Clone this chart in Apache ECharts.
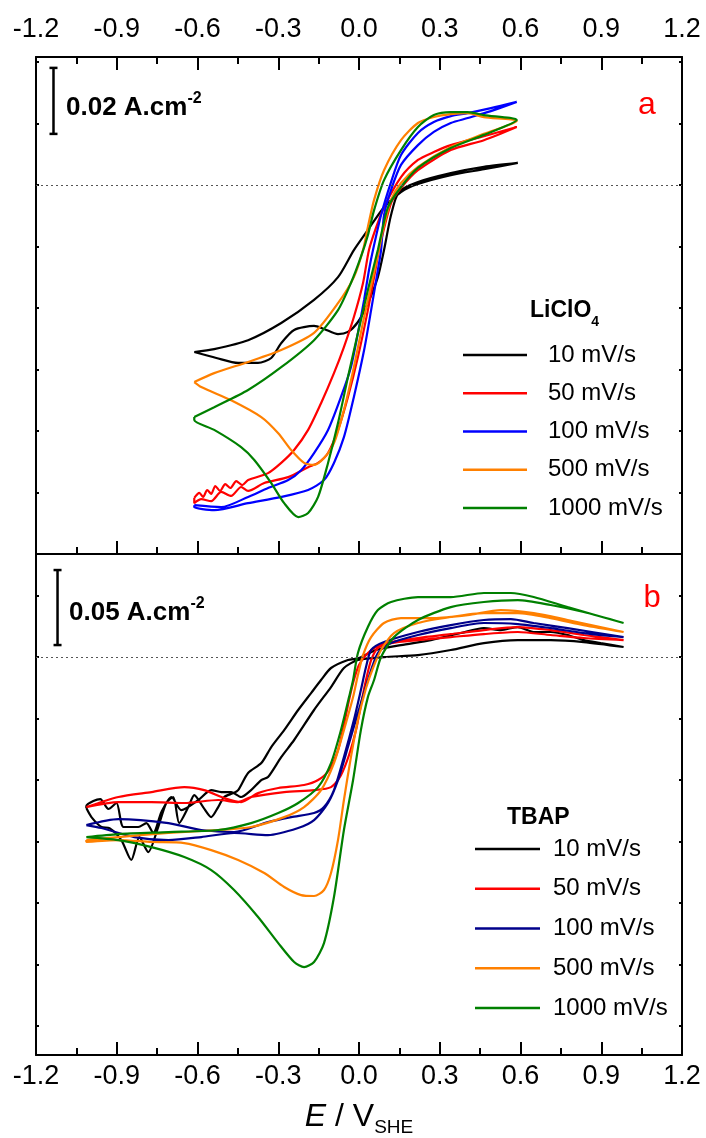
<!DOCTYPE html>
<html>
<head>
<meta charset="utf-8">
<script src="https://cdn.jsdelivr.net/npm/echarts@6/dist/echarts.min.js"></script>
<style>
  html, body { margin: 0; padding: 0; background: #fff; }
  #chart { width: 706px; height: 1138px; }
</style>
</head>
<body>
<div id="chart"></div>
<script>
// potential axis (V vs SHE) and current density in mA/cm2
const eTicks = [-1.2, 1.2, 0.3];
const yTicksA = [-93.2, -74.6, -55.9, -37.3, -18.6, 0, 18.6, 37.3];
const yTicksB = [-246, -205, -164, -123, -82, -41, 0, 41];
const scaleBarA = [[-1.135, 35.5], [-1.135, 15.5]]; // 0.02 A/cm2
const scaleBarB = [[-1.120, 58.0], [-1.120, 8.0]];  // 0.05 A/cm2

const rates = ['10 mV/s', '50 mV/s', '100 mV/s', '500 mV/s', '1000 mV/s'];
const colorsA = ['#000000', '#ff0000', '#0000ff', '#ff8000', '#008000'];
const colorsB = ['#000000', '#ff0000', '#00008b', '#ff8000', '#008000'];

// panel a : LiClO4
const cvA10 = [[-0.612,-50.6],[-0.530,-52.4],[-0.449,-53.9],[-0.375,-53.9],[-0.326,-52.4],[-0.289,-47.9],[-0.241,-43.9],[-0.167,-42.7],[-0.130,-43.6],[-0.078,-45.2],[-0.041,-44.5],[-0.004,-41.5],[0.033,-35.8],[0.070,-27.9],[0.093,-19.7],[0.119,-9.1],[0.148,-2.1],[0.219,0.9],[0.341,3.6],[0.464,5.5],[0.590,6.7],[0.464,4.8],[0.341,3.0],[0.219,0.3],[0.156,-2.1],[0.093,-6.7],[0.033,-13.6],[-0.019,-19.7],[-0.078,-27.9],[-0.167,-34.8],[-0.289,-41.8],[-0.412,-47.0],[-0.538,-49.7],[-0.612,-50.6]];
const cvA50 = [[-0.612,-94.8],[-0.593,-93.3],[-0.579,-94.5],[-0.564,-92.4],[-0.549,-93.6],[-0.534,-91.2],[-0.516,-92.7],[-0.497,-90.6],[-0.478,-91.8],[-0.456,-89.7],[-0.434,-90.9],[-0.412,-89.4],[-0.338,-87.3],[-0.289,-84.2],[-0.241,-80.3],[-0.189,-74.2],[-0.141,-66.1],[-0.093,-57.0],[-0.056,-49.1],[-0.019,-40.0],[0.015,-29.7],[0.037,-19.7],[0.063,-13.0],[0.093,-6.7],[0.156,2.4],[0.219,7.6],[0.278,10.0],[0.341,12.1],[0.464,14.8],[0.586,17.6],[0.464,13.6],[0.341,10.6],[0.219,4.5],[0.156,-0.9],[0.119,-5.5],[0.074,-19.7],[0.063,-24.8],[0.033,-37.9],[-0.004,-52.1],[-0.041,-64.2],[-0.078,-74.2],[-0.115,-81.2],[-0.152,-84.2],[-0.189,-85.5],[-0.263,-88.5],[-0.352,-90.3],[-0.412,-92.7],[-0.438,-91.5],[-0.475,-94.2],[-0.512,-93.0],[-0.549,-95.8],[-0.586,-95.2],[-0.612,-96.4],[-0.612,-94.8]];
const cvA100 = [[-0.612,-97.0],[-0.512,-97.6],[-0.412,-94.5],[-0.338,-91.8],[-0.263,-89.4],[-0.215,-86.4],[-0.167,-81.2],[-0.115,-74.2],[-0.067,-64.2],[-0.030,-55.2],[-0.004,-44.8],[0.019,-34.8],[0.037,-25.8],[0.052,-19.7],[0.082,-9.1],[0.119,0.9],[0.156,9.1],[0.219,15.8],[0.278,19.1],[0.341,20.9],[0.404,21.8],[0.490,23.3],[0.586,25.2],[0.490,22.4],[0.404,20.3],[0.341,18.8],[0.278,16.1],[0.219,12.1],[0.156,6.1],[0.119,-1.5],[0.093,-9.1],[0.082,-19.7],[0.070,-25.8],[0.045,-37.9],[0.019,-50.0],[-0.019,-64.2],[-0.056,-76.4],[-0.093,-84.2],[-0.130,-89.4],[-0.189,-92.4],[-0.289,-94.5],[-0.412,-96.4],[-0.538,-98.5],[-0.612,-97.6],[-0.612,-97.0]];
const cvA500 = [[-0.612,-59.7],[-0.538,-57.0],[-0.412,-53.6],[-0.289,-50.0],[-0.167,-44.8],[-0.078,-35.8],[-0.019,-27.9],[0.015,-19.7],[0.033,-12.7],[0.056,-4.5],[0.093,4.5],[0.156,13.6],[0.219,18.8],[0.278,20.6],[0.341,21.5],[0.404,21.8],[0.464,20.6],[0.586,19.4],[0.464,15.5],[0.341,11.5],[0.219,5.5],[0.156,0.6],[0.119,-4.5],[0.089,-13.6],[0.074,-19.7],[0.052,-27.9],[0.019,-40.0],[-0.019,-55.2],[-0.056,-68.2],[-0.093,-78.2],[-0.130,-82.7],[-0.167,-84.8],[-0.204,-84.2],[-0.252,-80.3],[-0.300,-75.2],[-0.363,-70.3],[-0.475,-65.2],[-0.586,-61.2],[-0.612,-59.7]];
const cvA1000 = [[-0.612,-70.3],[-0.538,-67.3],[-0.412,-62.1],[-0.289,-55.2],[-0.167,-47.0],[-0.078,-37.9],[-0.030,-29.7],[0.007,-21.8],[0.033,-15.2],[0.056,-7.6],[0.093,1.5],[0.156,10.6],[0.219,17.6],[0.278,21.2],[0.341,22.1],[0.404,22.1],[0.464,21.2],[0.586,19.7],[0.464,15.2],[0.341,11.2],[0.219,5.2],[0.156,-0.6],[0.108,-6.7],[0.082,-15.2],[0.070,-19.7],[0.033,-31.8],[-0.004,-44.8],[-0.041,-58.2],[-0.078,-72.1],[-0.115,-84.2],[-0.152,-94.5],[-0.189,-99.4],[-0.226,-100.6],[-0.278,-96.4],[-0.326,-90.3],[-0.389,-83.3],[-0.438,-79.4],[-0.538,-74.2],[-0.612,-71.2],[-0.612,-70.3]];

// panel b : TBAP
const cvB10 = [[-1.013,-100.7],[-0.994,-106.7],[-0.957,-113.3],[-0.927,-114.0],[-0.883,-122.0],[-0.846,-135.3],[-0.816,-120.0],[-0.783,-130.0],[-0.746,-113.3],[-0.716,-97.3],[-0.690,-93.3],[-0.668,-110.7],[-0.634,-100.0],[-0.612,-92.0],[-0.579,-100.0],[-0.549,-106.7],[-0.523,-100.0],[-0.501,-93.3],[-0.467,-90.7],[-0.449,-88.7],[-0.412,-77.3],[-0.363,-70.7],[-0.326,-60.0],[-0.278,-48.7],[-0.226,-35.3],[-0.178,-24.0],[-0.141,-15.3],[-0.104,-7.3],[-0.041,-2.0],[0.000,-0.7],[0.063,4.7],[0.156,8.0],[0.267,11.3],[0.378,16.0],[0.464,19.3],[0.527,18.0],[0.590,20.0],[0.649,16.7],[0.712,16.7],[0.775,14.7],[0.835,11.3],[0.898,9.3],[0.983,6.7],[0.835,10.0],[0.712,11.3],[0.590,11.3],[0.464,9.3],[0.341,4.7],[0.219,1.3],[0.093,0.0],[-0.004,-2.0],[-0.056,-7.3],[-0.104,-20.0],[-0.167,-35.3],[-0.241,-55.3],[-0.289,-66.7],[-0.338,-80.0],[-0.363,-82.0],[-0.401,-88.7],[-0.438,-93.3],[-0.475,-90.0],[-0.512,-90.0],[-0.549,-88.7],[-0.597,-95.3],[-0.660,-102.0],[-0.697,-93.3],[-0.734,-103.3],[-0.764,-117.3],[-0.790,-110.7],[-0.820,-113.3],[-0.875,-113.3],[-0.901,-97.3],[-0.931,-101.3],[-0.961,-94.7],[-0.987,-96.0],[-1.013,-99.3],[-1.013,-100.7]];
const cvB50 = [[-1.013,-100.0],[-0.894,-93.3],[-0.771,-90.0],[-0.649,-86.7],[-0.575,-88.7],[-0.501,-94.0],[-0.438,-96.7],[-0.375,-90.7],[-0.300,-87.3],[-0.204,-85.3],[-0.152,-82.0],[-0.111,-75.3],[-0.078,-62.0],[-0.056,-45.3],[-0.037,-28.7],[-0.019,-15.3],[0.000,-5.3],[0.026,1.3],[0.063,6.7],[0.119,10.0],[0.219,12.7],[0.341,15.3],[0.464,18.0],[0.590,20.0],[0.712,18.0],[0.835,14.7],[0.983,11.3],[0.835,12.7],[0.712,14.7],[0.590,16.7],[0.464,15.3],[0.341,13.3],[0.219,11.3],[0.119,9.3],[0.070,6.0],[0.045,-2.0],[0.026,-15.3],[0.007,-32.0],[-0.011,-48.7],[-0.037,-65.3],[-0.067,-78.7],[-0.104,-86.7],[-0.167,-88.7],[-0.278,-90.0],[-0.401,-93.3],[-0.449,-96.7],[-0.523,-95.3],[-0.649,-97.3],[-0.771,-96.7],[-0.894,-96.7],[-1.013,-100.0]];
const cvB100 = [[-1.013,-112.0],[-0.894,-108.0],[-0.708,-110.7],[-0.586,-115.3],[-0.464,-116.7],[-0.338,-110.0],[-0.252,-106.7],[-0.167,-104.0],[-0.130,-100.0],[-0.093,-88.7],[-0.056,-66.7],[-0.019,-42.0],[0.007,-22.0],[0.026,-6.7],[0.045,4.7],[0.093,10.0],[0.219,16.7],[0.341,21.3],[0.464,24.7],[0.564,25.3],[0.649,22.7],[0.775,19.3],[0.983,13.3],[0.835,16.0],[0.712,19.3],[0.590,22.0],[0.464,22.7],[0.341,19.3],[0.219,14.7],[0.119,9.3],[0.070,2.7],[0.033,-15.3],[-0.004,-37.3],[-0.041,-60.0],[-0.078,-82.0],[-0.115,-97.3],[-0.167,-108.7],[-0.226,-114.0],[-0.338,-118.7],[-0.464,-117.3],[-0.586,-120.0],[-0.708,-122.0],[-0.835,-120.0],[-0.957,-114.0],[-1.013,-112.0]];
const cvB500 = [[-1.013,-122.0],[-0.894,-120.0],[-0.708,-117.3],[-0.523,-115.3],[-0.401,-113.3],[-0.278,-106.7],[-0.204,-100.0],[-0.141,-88.7],[-0.093,-70.7],[-0.056,-48.7],[-0.022,-26.7],[-0.004,-12.0],[0.015,1.3],[0.045,13.3],[0.093,22.7],[0.156,26.0],[0.278,26.0],[0.404,28.0],[0.527,31.3],[0.649,29.3],[0.775,24.7],[0.983,16.7],[0.835,21.3],[0.712,26.0],[0.590,29.3],[0.464,29.3],[0.341,26.7],[0.219,22.7],[0.130,16.0],[0.082,4.7],[0.052,-7.3],[0.026,-20.7],[-0.004,-42.0],[-0.030,-66.7],[-0.056,-95.3],[-0.078,-122.0],[-0.104,-144.0],[-0.130,-155.3],[-0.167,-159.3],[-0.215,-158.7],[-0.278,-153.3],[-0.352,-144.0],[-0.449,-135.3],[-0.549,-128.7],[-0.649,-124.0],[-0.771,-123.3],[-0.894,-122.0],[-1.013,-123.3],[-1.013,-122.0]];
const cvB1000 = [[-1.013,-120.0],[-0.894,-118.0],[-0.708,-116.7],[-0.523,-115.3],[-0.401,-110.7],[-0.300,-104.0],[-0.226,-97.3],[-0.152,-86.7],[-0.104,-70.7],[-0.067,-48.7],[-0.037,-26.7],[-0.022,-15.3],[-0.004,2.7],[0.033,20.0],[0.070,31.3],[0.119,36.7],[0.219,40.0],[0.341,40.0],[0.464,42.7],[0.564,42.7],[0.649,40.0],[0.775,33.3],[0.983,22.7],[0.835,30.0],[0.712,34.7],[0.590,38.0],[0.464,36.7],[0.341,33.3],[0.219,24.7],[0.130,13.3],[0.082,0.0],[0.056,-15.3],[0.033,-26.7],[0.007,-48.7],[-0.022,-82.0],[-0.056,-115.3],[-0.093,-160.0],[-0.130,-190.7],[-0.167,-203.3],[-0.204,-206.7],[-0.241,-203.3],[-0.300,-190.7],[-0.375,-173.3],[-0.464,-155.3],[-0.549,-142.0],[-0.649,-133.3],[-0.771,-126.7],[-0.894,-122.0],[-1.013,-120.0]];

const loopsA = [cvA10, cvA50, cvA100, cvA500, cvA1000];
const loopsB = [cvB10, cvB50, cvB100, cvB500, cvB1000];

const SANS = "'Liberation Sans',Arial,sans-serif";

function xAxisCfg(grid, pos, showLabel, showTick, margin) {
  return {
    type: 'value', gridIndex: grid, position: pos,
    min: eTicks[0], max: eTicks[1], interval: eTicks[2],
    axisLine: { onZero: false, lineStyle: { color: '#000', width: 2 } },
    axisTick: { show: showTick, inside: true, length: 13, lineStyle: { color: '#000', width: 2 } },
    minorTick: { show: showTick, splitNumber: 2, length: 7, lineStyle: { color: '#000', width: 2 } },
    axisLabel: {
      show: showLabel, margin: margin || 4, color: '#000', fontSize: 27, fontFamily: SANS,
      formatter: v => (Math.abs(v) < 1e-9 ? 0 : v).toFixed(1)
    },
    splitLine: { show: false }, minorSplitLine: { show: false }
  };
}

function yAxisCfg(grid, pos, min, max, ticks) {
  return {
    type: 'value', gridIndex: grid, position: pos, min: min, max: max,
    axisLine: { onZero: false, lineStyle: { color: '#000', width: 2 } },
    axisTick: { show: true, inside: true, length: 3, customValues: ticks, lineStyle: { color: '#000', width: 2 } },
    axisLabel: { show: false },
    splitLine: { show: false }
  };
}

function zeroLine() {
  return {
    silent: true, symbol: 'none', label: { show: false },
    lineStyle: { type: [2, 3], color: '#555', width: 1 },
    data: [{ yAxis: 0 }]
  };
}

const series = [];
loopsA.forEach((d, i) => {
  series.push({
    name: 'LiClO4 ' + rates[i], type: 'line', xAxisIndex: 0, yAxisIndex: 0,
    data: d, color: colorsA[i], showSymbol: false, smooth: 0.25,
    lineStyle: { width: 2.2 },
    markLine: i === 0 ? zeroLine() : undefined
  });
});
loopsB.forEach((d, i) => {
  series.push({
    name: 'TBAP ' + rates[i], type: 'line', xAxisIndex: 2, yAxisIndex: 2,
    data: d, color: colorsB[i], showSymbol: false, smooth: 0.25,
    lineStyle: { width: 2.2 },
    markLine: i === 0 ? zeroLine() : undefined
  });
});
// scale bars
[[scaleBarA, 0, 0], [scaleBarB, 2, 2]].forEach(([d, xi, yi]) => {
  series.push({
    type: 'line', xAxisIndex: xi, yAxisIndex: yi, data: d, color: '#000',
    symbol: 'rect', symbolSize: [8, 2.5], showSymbol: true,
    lineStyle: { width: 2.5, color: '#000' }, itemStyle: { color: '#000' }
  });
});

function legendCfg(prefix, left, top, width, gap, textGap) {
  return {
    orient: 'vertical', left: left, top: top, icon: 'rect',
    itemWidth: width, itemHeight: 2.5, itemGap: gap,
    selectedMode: false,
    data: rates.map(r => prefix + ' ' + r),
    formatter: n => n.slice(prefix.length + 1),
    textStyle: { fontSize: 24, lineHeight: 24, fontFamily: SANS, color: '#000', padding: [0, 0, 0, textGap] }
  };
}

const supRich = {
  m: { fontSize: 26, fontWeight: 'bold', fontFamily: SANS, fill: '#000', lineHeight: 30, verticalAlign: 'bottom' },
  s: { fontSize: 16, fontWeight: 'bold', fontFamily: SANS, fill: '#000', lineHeight: 16, verticalAlign: 'top' }
};
const subRich = {
  m: { fontSize: 23, fontWeight: 'bold', fontFamily: SANS, fill: '#000', lineHeight: 30, verticalAlign: 'top' },
  s: { fontSize: 14, fontWeight: 'bold', fontFamily: SANS, fill: '#000', lineHeight: 10, verticalAlign: 'bottom' }
};

const option = {
  animation: false,
  backgroundColor: '#fff',
  grid: [
    { left: 36, right: 24, top: 57, height: 497 },
    { left: 36, right: 24, top: 554, height: 501 }
  ],
  xAxis: [
    xAxisCfg(0, 'top', true, true, 14),
    xAxisCfg(0, 'bottom', false, true),
    Object.assign(xAxisCfg(1, 'bottom', true, true, 8), {
      name: '{i|E}{n| / V}{s|SHE}', nameLocation: 'middle', nameGap: 46,
      nameTextStyle: {
        rich: {
          i: { fontSize: 32, fontStyle: 'italic', fontFamily: SANS, color: '#000', lineHeight: 36, verticalAlign: 'top' },
          n: { fontSize: 32, fontFamily: SANS, color: '#000', lineHeight: 36, verticalAlign: 'top' },
          s: { fontSize: 19, fontFamily: SANS, color: '#000', lineHeight: 20, verticalAlign: 'bottom', padding: [24, 0, 0, 0] }
        }
      }
    }),
    xAxisCfg(1, 'top', false, false)
  ],
  yAxis: [
    yAxisCfg(0, 'left', -111.8, 38.8, yTicksA),
    yAxisCfg(0, 'right', -111.8, 38.8, yTicksA),
    yAxisCfg(1, 'left', -265.3, 68.7, yTicksB),
    yAxisCfg(1, 'right', -265.3, 68.7, yTicksB)
  ],
  legend: [
    legendCfg('LiClO4', 458, 338, 64, 14.25, 16),
    legendCfg('TBAP', 470, 832, 65, 15.75, 8)
  ],
  graphic: [
    { type: 'text', x: 66, y: 91, style: { text: '{m|0.02 A.cm}{s|-2}', rich: supRich } },
    { type: 'text', x: 69, y: 596, style: { text: '{m|0.05 A.cm}{s|-2}', rich: supRich } },
    { type: 'text', x: 647, y: 105, style: { text: 'a', fill: '#ff0000', fontSize: 32, fontFamily: SANS, align: 'center', verticalAlign: 'middle' } },
    { type: 'text', x: 652, y: 598, style: { text: 'b', fill: '#ff0000', fontSize: 31, fontFamily: SANS, align: 'center', verticalAlign: 'middle' } },
    { type: 'text', x: 530, y: 299, style: { text: '{m|LiClO}{s|4}', rich: subRich } },
    { type: 'text', x: 507, y: 818, style: { text: 'TBAP', fill: '#000', fontSize: 23, fontWeight: 'bold', fontFamily: SANS, verticalAlign: 'middle' } }
  ],
  series: series
};

const chart = echarts.init(document.getElementById('chart'), null, { renderer: 'canvas' });
chart.setOption(option);
</script>
</body>
</html>
